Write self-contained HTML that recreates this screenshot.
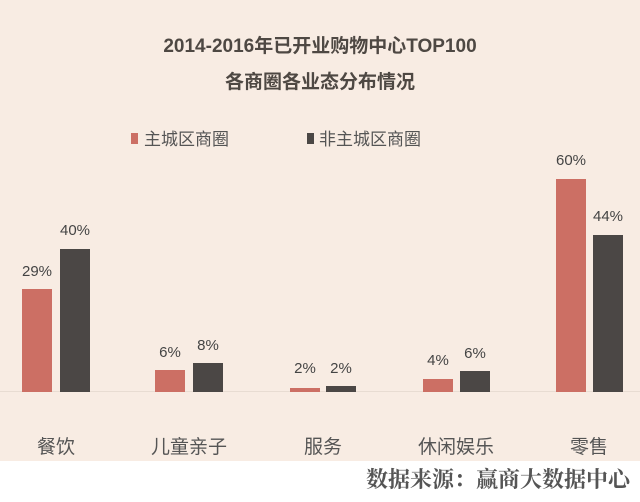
<!DOCTYPE html>
<html><head><meta charset="utf-8"><style>
body{margin:0;width:640px;height:502px;background:#fff;position:relative;overflow:hidden;font-family:"Liberation Sans","Noto Sans CJK SC",sans-serif}
.bg{position:absolute;left:0;top:0;width:640px;height:461px;background:#f8ece3}
.t{position:absolute;left:0;width:640px;text-align:center;font-weight:bold;font-size:19px;color:#4e4843}
.b{position:absolute;}
.p{background:#cc6f64}.d{background:#4b4745}
.v{position:absolute;width:40px;text-align:center;font-size:15px;color:#444}
.c{position:absolute;width:120px;text-align:center;font-size:19px;color:#555;top:432px}
</style></head><body>
<div class="bg"></div>
<div style="position:absolute;left:0;top:391px;width:640px;height:1px;background:#e8dcd2"></div>
<div class="t" style="top:31px">2014-2016年已开业购物中心TOP100</div>
<div class="t" style="top:67px">各商圈各业态分布情况</div>
<div class="b p" style="left:131px;top:133px;width:7px;height:11px"></div>
<div style="position:absolute;left:144px;top:125px;font-size:17px;color:#555">主城区商圈</div>
<div class="b d" style="left:307px;top:133px;width:7px;height:11px"></div>
<div style="position:absolute;left:319px;top:125px;font-size:17px;color:#555">非主城区商圈</div>

<div class="b p" style="left:22px;top:289px;width:30px;height:103px"></div>
<div class="b d" style="left:60px;top:249px;width:30px;height:143px"></div>
<div class="b p" style="left:155px;top:370px;width:30px;height:22px"></div>
<div class="b d" style="left:193px;top:363px;width:30px;height:29px"></div>
<div class="b p" style="left:290px;top:388px;width:30px;height:4px"></div>
<div class="b d" style="left:326px;top:386px;width:30px;height:6px"></div>
<div class="b p" style="left:423px;top:379px;width:30px;height:13px"></div>
<div class="b d" style="left:460px;top:371px;width:30px;height:21px"></div>
<div class="b p" style="left:556px;top:179px;width:30px;height:213px"></div>
<div class="b d" style="left:593px;top:235px;width:30px;height:157px"></div>

<div class="v" style="left:17px;top:263px">29%</div>
<div class="v" style="left:55px;top:222px">40%</div>
<div class="v" style="left:150px;top:344px">6%</div>
<div class="v" style="left:188px;top:337px">8%</div>
<div class="v" style="left:285px;top:360px">2%</div>
<div class="v" style="left:321px;top:360px">2%</div>
<div class="v" style="left:418px;top:352px">4%</div>
<div class="v" style="left:455px;top:345px">6%</div>
<div class="v" style="left:551px;top:152px">60%</div>
<div class="v" style="left:588px;top:208px">44%</div>

<div class="c" style="left:-4px">餐饮</div>
<div class="c" style="left:129px">儿童亲子</div>
<div class="c" style="left:263px">服务</div>
<div class="c" style="left:396px">休闲娱乐</div>
<div class="c" style="left:529px">零售</div>
<div style="position:absolute;right:10px;top:463px;font-size:22px;font-weight:bold;color:#555;font-family:'Liberation Serif','Noto Serif CJK SC',serif">数据来源：赢商大数据中心</div>
</body></html>
